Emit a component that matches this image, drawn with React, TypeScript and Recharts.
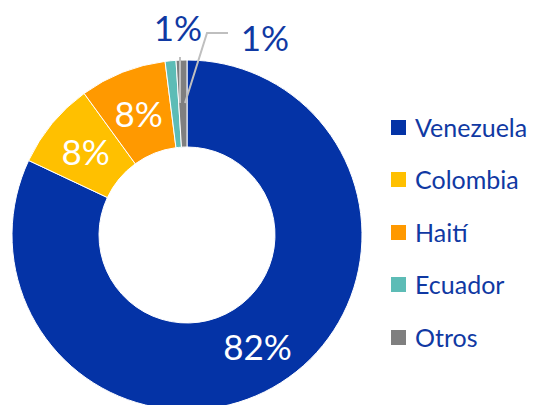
import React from "react";
import { PieChart, Pie, Cell, Legend } from "recharts";

const categories = ["Venezuela", "Colombia", "Haití", "Ecuador", "Otros"];
const values = [82, 8, 8, 1, 1];
const labels = ["82%", "8%", "8%", "1%", "1%"];

const COLORS = ["#0433A6", "#FFC000", "#FF9900", "#5DBCB6", "#7F7F7F"];
const TEXT_BLUE = "#1039A3";
const FONT = "Lato, 'Open Sans', sans-serif";

const data = categories.map((name, i) => ({ name, value: values[i], label: labels[i] }));

const RAD = Math.PI / 180;

const renderLabel = (props: any) => {
  const { cx, cy, midAngle, innerRadius, outerRadius, index } = props;
  const lbl = labels[index];
  if (index <= 2) {
    const r = (innerRadius + outerRadius) / 2;
    const x = cx + r * Math.cos(-midAngle * RAD);
    const y = cy + r * Math.sin(-midAngle * RAD);
    return (
      <text
        x={x}
        y={y}
        fill="#ffffff"
        textAnchor="middle"
        dominantBaseline="central"
        fontSize={35}
        fontFamily={FONT}
      >
        {lbl}
      </text>
    );
  }
  if (index === 3) {
    return (
      <g>
        <line x1={cx - 7} y1={cy - 132} x2={cx - 7} y2={cy - 178} stroke="#BFBFBF" strokeWidth={2} />
        <text
          x={cx - 9}
          y={cy - 208}
          fill={TEXT_BLUE}
          textAnchor="middle"
          dominantBaseline="central"
          fontSize={35}
          fontFamily={FONT}
        >
          {lbl}
        </text>
      </g>
    );
  }
  return (
    <g>
      <polyline
        points={`${cx - 2},${cy - 132} ${cx + 20},${cy - 202} ${cx + 41},${cy - 202}`}
        fill="none"
        stroke="#BFBFBF"
        strokeWidth={2}
      />
      <text
        x={cx + 78}
        y={cy - 198}
        fill={TEXT_BLUE}
        textAnchor="middle"
        dominantBaseline="central"
        fontSize={35}
        fontFamily={FONT}
      >
        {lbl}
      </text>
    </g>
  );
};

const LegendContent = () => (
  <div style={{ fontFamily: FONT }}>
    {categories.map((c, i) => (
      <div
        key={c}
        style={{ display: "flex", alignItems: "center", height: 52.5 }}
      >
        <span
          style={{
            display: "inline-block",
            width: 15,
            height: 15,
            background: COLORS[i],
            marginRight: 9,
          }}
        />
        <span style={{ color: TEXT_BLUE, fontSize: 25, lineHeight: "25px" }}>{c}</span>
      </div>
    ))}
  </div>
);

export default function App() {
  return (
    <div style={{ position: "absolute", left: 0, top: 0, width: 538, height: 405, background: "#fff" }}>
      <PieChart width={538} height={405} margin={{ top: 0, right: 0, bottom: 0, left: 0 }}>
        <Pie
          data={data}
          dataKey="value"
          nameKey="name"
          cx={187}
          cy={235}
          innerRadius={88}
          outerRadius={175}
          startAngle={90}
          endAngle={-270}
          stroke="#ffffff"
          strokeWidth={1}
          label={renderLabel}
          labelLine={false}
          isAnimationActive={false}
        >
          {data.map((d, i) => (
            <Cell key={d.name} fill={COLORS[i]} />
          ))}
        </Pie>
        <Legend
          content={<LegendContent />}
          wrapperStyle={{ position: "absolute", left: 391, top: 101, width: 147 }}
        />
      </PieChart>
    </div>
  );
}
